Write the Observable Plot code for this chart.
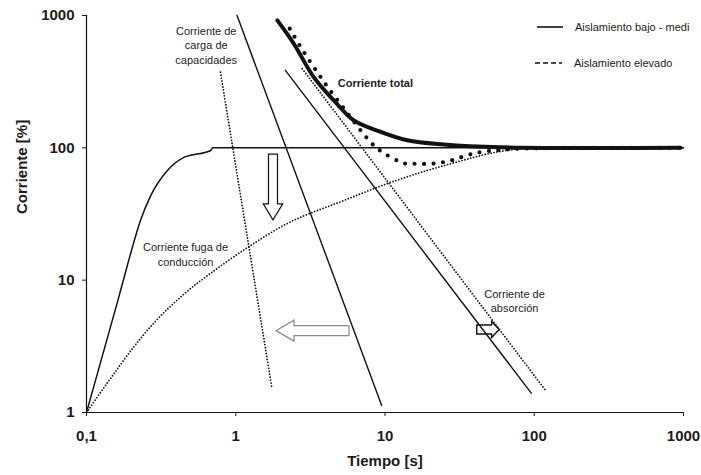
<!DOCTYPE html>
<html>
<head>
<meta charset="utf-8">
<script src="https://cdn.jsdelivr.net/npm/d3@7"></script>
<script src="https://cdn.jsdelivr.net/npm/@observablehq/plot@0.6"></script>
<style>
  html, body { margin: 0; padding: 0; background: #fff; }
  #chart { width: 701px; height: 475px; overflow: hidden; }
</style>
</head>
<body>
<div id="chart"></div>
<script>
// Axis ticks (log-log, decades)
const xTicks = [0.1, 1, 10, 100, 1000];
const xTickLabels = ["0,1", "1", "10", "100", "1000"];
const yTicks = [1, 10, 100, 1000];
const yTickLabels = ["1", "10", "100", "1000"];

// Corriente de fuga de conducción (aislamiento bajo - medio)
const leakLowT = [0.1, 0.161, 0.187, 0.23, 0.268, 0.347, 0.449, 0.68, 0.7, 1000];
const leakLowI = [1, 6.8, 12.7, 28.3, 43, 67, 84.6, 95.5, 100, 100];

// Corriente de fuga de conducción (aislamiento elevado)
const leakHighT = [0.1, 0.145, 0.206, 0.281, 0.447, 0.755, 1.26, 2.09, 5.3, 10.9, 27.5, 59.4, 100, 1000];
const leakHighI = [1, 1.81, 3.1, 4.71, 7.8, 12.3, 18.3, 25.9, 40, 54.8, 75.8, 94, 100, 100];

// Corriente de carga de capacidades
const capLowT = [1.02, 9.5];
const capLowI = [1000, 1.13];
const capHighT = [0.79, 1.75];
const capHighI = [373, 1.51];

// Corriente de absorción
const absLowT = [2.15, 95.5];
const absLowI = [385, 1.4];
const absHighT = [2.79, 120];
const absHighI = [396, 1.45];

// Corriente total
const totalLowT = [1.9, 2.45, 3.33, 4.54, 6.18, 8.87, 14.1, 24.8, 59.4, 955];
const totalLowI = [918, 612, 342, 228, 161, 135, 114, 106, 101, 100];
const totalHighT = [2.3, 2.86, 3.6, 4.25, 5.43, 7.03, 8.5, 9.57, 12.1, 13.7, 16, 20.9, 27.5, 36.4, 48.4, 81, 1000];
const totalHighI = [795, 529, 359, 275, 192, 131, 103, 92.9, 80, 76, 75.8, 76, 80, 88.7, 94.4, 98.5, 100];

// Annotations (anchored in data units)
const noteTexts = ["Corriente de\ncarga de\ncapacidades", "Corriente fuga de\nconducción", "Corriente de\nabsorción"];
const noteT = [0.634, 0.461, 73.8];
const noteI = [605, 15.8, 7.02];
const totalNote = ["Corriente total"];
const totalNoteT = [4.83];
const totalNoteI = [305];

// Hollow block arrows: tail -> tip, in data units
const arrowT0 = [1.79, 5.78, 41.5];
const arrowI0 = [89, 4.12, 4.2];
const arrowT1 = [1.79, 1.875, 58.7];
const arrowI1 = [28.3, 4.12, 4.2];

// Legend
const legendLabels = ["Aislamiento bajo - medi", "Aislamiento elevado"];

// ---- styling ----
const ink = "#111";
const textInk = "#1b1b1b";
const font = "'Liberation Sans', Arial, Helvetica, sans-serif";
const fineDots = {stroke: ink, strokeWidth: 1.8, strokeDasharray: "0,3", strokeLinecap: "round"};
const arrowShapes = [
  {shaft: 9, headWidth: 19.5, head: 16, stroke: "#111", width: 1.2},
  {shaft: 10, headWidth: 21, head: 18, stroke: "#8a8a8a", width: 1.2},
  {shaft: 9, headWidth: 16, head: 7.6, stroke: "#111", width: 1.4}
];
const legendStyles = [
  {dash: null, dx0: -146, dx1: -120, dy: 12, tx: -108},
  {dash: "5,3", dx0: -148, dx1: -121, dy: 48, tx: -109}
];

const pts = (ts, is) => ts.map((t, k) => ({t, i: is[k]}));
const labelled = (texts, ts, is) => texts.map((text, k) => ({text, t: ts[k], i: is[k]}));

const arrows = arrowT0.map((t0, k) => ({t0, i0: arrowI0[k], t1: arrowT1[k], i1: arrowI1[k]}));

// Custom mark: hollow block arrows placed through the x/y scales
function blockArrows(list, shapes) {
  return (index, scales) => {
    const g = d3.create("svg:g");
    list.forEach((a, k) => {
      const s = shapes[k];
      const x0 = scales.x(a.t0), y0 = scales.y(a.i0);
      const x1 = scales.x(a.t1), y1 = scales.y(a.i1);
      const len = Math.hypot(x1 - x0, y1 - y0);
      const ux = (x1 - x0) / len, uy = (y1 - y0) / len;
      const nx = -uy, ny = ux;
      const bx = x1 - ux * s.head, by = y1 - uy * s.head;
      const sw = s.shaft / 2, hw = s.headWidth / 2;
      const p = [
        [x0 + nx * sw, y0 + ny * sw],
        [bx + nx * sw, by + ny * sw],
        [bx + nx * hw, by + ny * hw],
        [x1, y1],
        [bx - nx * hw, by - ny * hw],
        [bx - nx * sw, by - ny * sw],
        [x0 - nx * sw, y0 - ny * sw]
      ];
      g.append("path")
        .attr("d", "M" + p.map(q => q.join(",")).join("L") + "Z")
        .attr("fill", "white")
        .attr("stroke", s.stroke)
        .attr("stroke-width", s.width)
        .attr("stroke-linejoin", "miter");
    });
    return g.node();
  };
}

// Custom mark: line-style legend in the top-right corner of the frame
function lineLegend(labels, styles) {
  return (index, scales, values, dims) => {
    const right = dims.width - dims.marginRight;
    const top = dims.marginTop;
    const g = d3.create("svg:g");
    labels.forEach((label, k) => {
      const s = styles[k];
      g.append("line")
        .attr("x1", right + s.dx0).attr("x2", right + s.dx1)
        .attr("y1", top + s.dy).attr("y2", top + s.dy)
        .attr("stroke", ink).attr("stroke-width", 1.6)
        .attr("stroke-dasharray", s.dash);
      g.append("text")
        .attr("x", right + s.tx).attr("y", top + s.dy)
        .attr("dy", "0.35em")
        .attr("text-anchor", "start")
        .attr("fill", textInk)
        .attr("font-size", 11)
        .attr("font-weight", "normal")
        .text(label);
    });
    return g.node();
  };
}

const chart = Plot.plot({
  width: 701,
  height: 475,
  marginLeft: 86,
  marginRight: 18,
  marginTop: 15,
  marginBottom: 63,
  style: {fontFamily: font, fontSize: "15px", fontWeight: "bold", color: textInk, background: "white"},
  x: {
    type: "log", domain: [0.1, 1000], ticks: xTicks,
    tickFormat: d => xTickLabels[xTicks.indexOf(d)],
    tickSize: 4, tickPadding: 14, label: null
  },
  y: {
    type: "log", domain: [1, 1000], ticks: yTicks,
    tickFormat: d => yTickLabels[yTicks.indexOf(d)],
    tickSize: 4, tickPadding: 8, label: null
  },
  marks: [
    blockArrows(arrows, arrowShapes),
    // frame axes
    Plot.ruleY([1], {x1: 0.1, x2: 1000, stroke: ink, strokeWidth: 1.2}),
    Plot.ruleX([0.1], {y1: 1, y2: 1000, stroke: ink, strokeWidth: 1.2}),
    // capacitive charging current
    Plot.line(pts(capLowT, capLowI), {x: "t", y: "i", stroke: ink, strokeWidth: 1.4}),
    Plot.line(pts(capHighT, capHighI), {x: "t", y: "i", ...fineDots}),
    // absorption current
    Plot.line(pts(absLowT, absLowI), {x: "t", y: "i", stroke: ink, strokeWidth: 1.4}),
    Plot.line(pts(absHighT, absHighI), {x: "t", y: "i", ...fineDots}),
    // conduction leakage current
    Plot.line(pts(leakHighT, leakHighI), {x: "t", y: "i", ...fineDots, curve: "monotone-x"}),
    Plot.line(pts(leakLowT, leakLowI), {x: "t", y: "i", stroke: ink, strokeWidth: 1.5, curve: "monotone-x"}),
    // total current
    Plot.line(pts(totalHighT, totalHighI), {x: "t", y: "i", stroke: ink, strokeWidth: 4.2, strokeDasharray: "0,9.5", strokeLinecap: "round", curve: "catmull-rom"}),
    Plot.line(pts(totalLowT, totalLowI), {x: "t", y: "i", stroke: ink, strokeWidth: 4, curve: "catmull-rom"}),
    // annotations
    Plot.text(labelled(noteTexts, noteT, noteI), {x: "t", y: "i", text: "text", textAnchor: "middle", fontWeight: "normal", fontSize: 11, lineHeight: 1.32, fill: textInk}),
    Plot.text(labelled(totalNote, totalNoteT, totalNoteI), {x: "t", y: "i", text: "text", textAnchor: "start", fontWeight: "bold", fontSize: 11, fill: textInk}),
    // axis titles
    Plot.text(["Tiempo [s]"], {frameAnchor: "bottom", dy: 53, fontSize: 15, fontWeight: "bold", fill: textInk}),
    Plot.text(["Corriente [%]"], {frameAnchor: "left", dx: -64, rotate: -90, fontSize: 15, fontWeight: "bold", fill: textInk}),
    lineLegend(legendLabels, legendStyles)
  ]
});

document.getElementById("chart").appendChild(chart);
</script>
</body>
</html>
